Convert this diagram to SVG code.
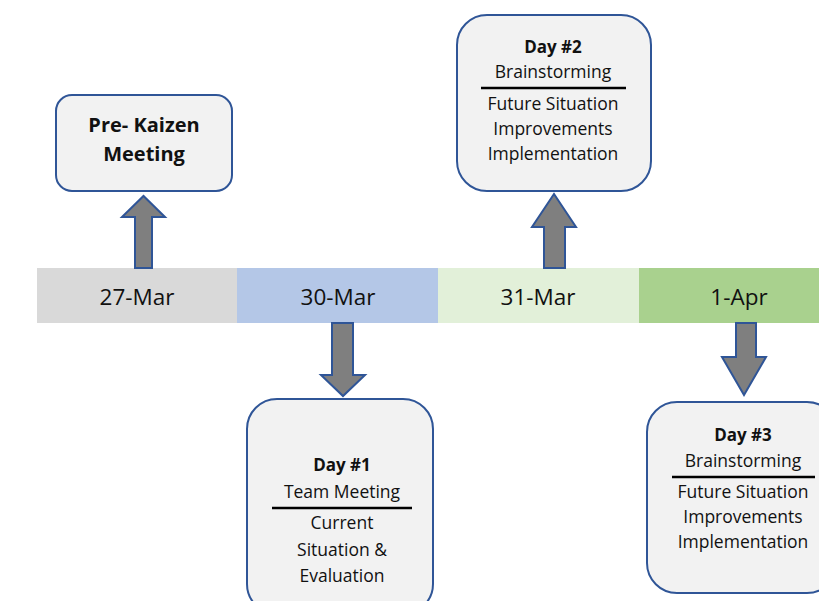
<svg xmlns="http://www.w3.org/2000/svg" width="819" height="601" viewBox="0 0 819 601">
<style>
.box{fill:#f2f2f2;stroke:#2f5597;stroke-width:2}
.arr{fill:#7f7f7f;stroke:#2f5597;stroke-width:2;stroke-linejoin:miter}
text{font-family:"Open Sans","Liberation Sans",Arial,sans-serif;fill:#111;text-anchor:middle}
.date{font-size:22.5px}
.t{font-size:17.5px}
.b{font-size:17px;font-weight:bold}
.pk{font-size:20px;font-weight:bold}
.rule{stroke:#000;stroke-width:2.5}
</style>
<rect width="819" height="601" fill="#fff"/>
<g id="timeline">
<rect x="37" y="268" width="200" height="55" fill="#d9d9d9"/>
<rect x="237" y="268" width="201" height="55" fill="#b4c7e7"/>
<rect x="438" y="268" width="201" height="55" fill="#e2f0d9"/>
<rect x="639" y="268" width="180" height="55" fill="#a9d18e"/>
<text class="date" x="137" y="305">27-Mar</text>
<text class="date" x="338" y="305">30-Mar</text>
<text class="date" x="538" y="305">31-Mar</text>
<text class="date" x="739" y="305">1-Apr</text>
</g>
<g id="connectors">
<path class="arr" d="M135,268 V217 H122 L143.5,196 L165,217 H152 V268 Z"/>
<path class="arr" d="M332,323 V375 H321 L343,396 L365,375 H353 V323 Z"/>
<path class="arr" d="M544,268 V227 H532 L554,194 L576,227 H565 V268 Z"/>
<path class="arr" d="M736,323 V357 H722 L744,395 L766,357 H756 V323 Z"/>
</g>
<g id="prekaizen">
<rect class="box" x="56" y="95" width="176" height="96" rx="16"/>
<text class="pk" x="144" y="132">Pre- Kaizen</text>
<text class="pk" x="144" y="161">Meeting</text>
</g>
<g id="day1">
<rect class="box" x="247" y="399" width="186" height="215" rx="30"/>
<text class="b" x="342" y="471">Day #1</text>
<text class="t" x="342" y="498">Team Meeting</text>
<line class="rule" x1="272" y1="508" x2="412" y2="508"/>
<text class="t" x="342" y="529">Current</text>
<text class="t" x="342" y="556">Situation &amp;</text>
<text class="t" x="342" y="582">Evaluation</text>
</g>
<g id="day2">
<rect class="box" x="457" y="15" width="194" height="176" rx="30"/>
<text class="b" x="553" y="53">Day #2</text>
<text class="t" x="553" y="78">Brainstorming</text>
<line class="rule" x1="481" y1="88" x2="626" y2="88"/>
<text class="t" x="553" y="110">Future Situation</text>
<text class="t" x="553" y="135">Improvements</text>
<text class="t" x="553" y="160">Implementation</text>
</g>
<g id="day3">
<rect class="box" x="647" y="402" width="190" height="191" rx="30"/>
<text class="b" x="743" y="441">Day #3</text>
<text class="t" x="743" y="467">Brainstorming</text>
<line class="rule" x1="672" y1="477" x2="815" y2="477"/>
<text class="t" x="743" y="498">Future Situation</text>
<text class="t" x="743" y="523">Improvements</text>
<text class="t" x="743" y="548">Implementation</text>
</g>
</svg>
